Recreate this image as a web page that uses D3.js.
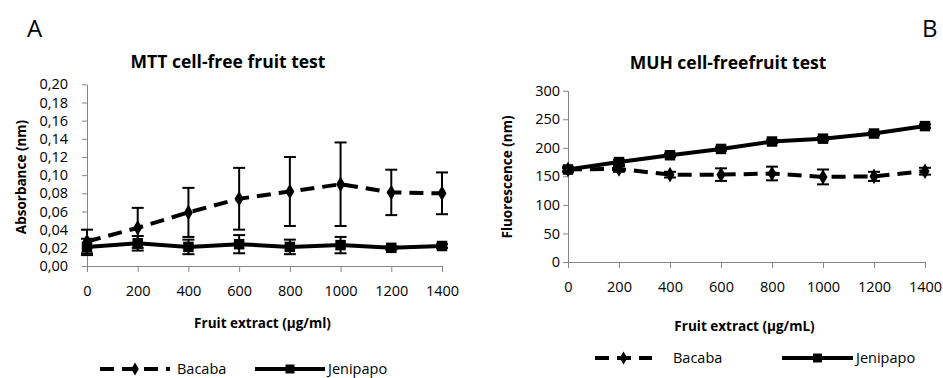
<!DOCTYPE html>
<html>
<head>
<meta charset="utf-8">
<script src="https://cdn.jsdelivr.net/npm/d3@7"></script>
<style>
  body { margin: 0; background: #fff; }
  svg text { font-family: "Open Sans", "Liberation Sans", sans-serif; fill: #000; }
  .tick text { font-size: 14.5px; }
  .axis path, .axis line { stroke: #868686; }
  .title { font-size: 17.5px; font-weight: bold; }
  .axisLabel { font-size: 13.5px; font-weight: bold; }
  .legend { font-size: 14.5px; }
</style>
</head>
<body>
<div id="chart"></div>
<script>
// data
var conc = [0, 200, 400, 600, 800, 1000, 1200, 1400];

var mttBacaba = [0.027, 0.042, 0.059, 0.074, 0.082, 0.090, 0.081, 0.080];
var mttBacabaErr = [0.013, 0.022, 0.027, 0.034, 0.038, 0.046, 0.025, 0.023];
var mttJenipapo = [0.021, 0.025, 0.021, 0.024, 0.021, 0.023, 0.020, 0.022];
var mttJenipapoErr = [0.009, 0.008, 0.008, 0.010, 0.008, 0.009, 0.002, 0.002];

var muhBacaba = [162, 163, 153, 153, 155, 149, 150, 159];
var muhBacabaErr = [3, 5, 5, 11, 12, 13, 8, 6];
var muhJenipapo = [162, 175, 187, 198, 211, 216, 225, 238];
var muhJenipapoErr = [4, 4, 3, 3, 3, 3, 3, 3];

var mttTicks = [0, 0.02, 0.04, 0.06, 0.08, 0.10, 0.12, 0.14, 0.16, 0.18, 0.20];
var muhTicks = [0, 50, 100, 150, 200, 250, 300];

var width = 943, height = 378;

var svg = d3.select("#chart")
  .append("svg")
  .attr("width", width)
  .attr("height", height);

function drawPanel(opt) {
  var g = svg.append("g");
  var xScale = d3.scaleLinear().domain([0, 1400]).range(opt.xRange);
  var yScale = d3.scaleLinear().domain(opt.yDomain).range(opt.yRange);

  g.append("g")
    .attr("class", "axis")
    .attr("transform", `translate(0,${opt.yRange[0]})`)
    .call(d3.axisBottom(xScale).tickValues(conc).tickFormat(d3.format("d")).tickSize(6).tickPadding(opt.xPad))
    .call(function(s) { s.select(".domain").attr("d", `M${opt.xRange[0]},0.5H${opt.xRange[1]}`); });

  g.append("g")
    .attr("class", "axis")
    .attr("transform", `translate(${opt.xRange[0]},0)`)
    .call(d3.axisLeft(yScale).tickValues(opt.ticks).tickFormat(opt.fmt).tickSize(5).tickSizeOuter(0).tickPadding(opt.yPad));

  g.selectAll(".tick text").attr("fill", "#000");

  // error bars
  opt.series.forEach(function(s) {
    var eb = g.append("g").attr("stroke", "#000").attr("stroke-width", 2);
    conc.forEach(function(c, i) {
      var x = xScale(c), y1 = yScale(s.v[i] + s.e[i]), y0 = yScale(s.v[i] - s.e[i]);
      eb.append("line").attr("x1", x).attr("x2", x).attr("y1", y1).attr("y2", y0);
      eb.append("line").attr("x1", x - 6).attr("x2", x + 6).attr("y1", y1).attr("y2", y1);
      eb.append("line").attr("x1", x - 6).attr("x2", x + 6).attr("y1", y0).attr("y2", y0);
    });
  });

  var line = d3.line()
    .x(function(d, i) { return xScale(conc[i]); })
    .y(function(d) { return yScale(d); });

  opt.series.forEach(function(s) {
    g.append("path")
      .datum(s.v)
      .attr("d", line)
      .attr("fill", "none")
      .attr("stroke", "#000")
      .attr("stroke-width", 4)
      .attr("stroke-dasharray", s.dash);

    g.selectAll(null)
      .data(s.v)
      .enter()
      .append("path")
      .attr("transform", function(d, i) { return `translate(${xScale(conc[i])},${yScale(d)})`; })
      .attr("d", d3.symbol().type(s.sym).size(s.size))
      .attr("fill", "#000");
  });

  svg.append("text")
    .attr("class", "title")
    .attr("x", opt.titleX)
    .attr("y", opt.titleY)
    .attr("text-anchor", "middle")
    .text(opt.title);

  svg.append("text")
    .attr("class", "axisLabel")
    .attr("x", (opt.xRange[0] + opt.xRange[1]) / 2 - 2)
    .attr("y", opt.xLabelY)
    .attr("text-anchor", "middle")
    .text(opt.xLabel);

  svg.append("text")
    .attr("class", "axisLabel")
    .attr("transform", `translate(${opt.yLabelX},177) rotate(-90)`)
    .attr("text-anchor", "middle")
    .text(opt.yLabel);

  // legend
  var lg = svg.append("g");
  var L = opt.legend;
  lg.append("line").attr("x1", L.b0).attr("x2", L.b1).attr("y1", L.y).attr("y2", L.y)
    .attr("stroke", "#000").attr("stroke-width", 4).attr("stroke-dasharray", "14,8");
  lg.append("path").attr("transform", `translate(${(L.b0 + L.b1) / 2},${L.y})`)
    .attr("d", d3.symbol().type(d3.symbolDiamond).size(50));
  lg.append("text").attr("class", "legend").attr("x", L.bt).attr("y", L.y + 5).text("Bacaba");
  lg.append("line").attr("x1", L.j0).attr("x2", L.j1).attr("y1", L.y).attr("y2", L.y)
    .attr("stroke", "#000").attr("stroke-width", 4);
  lg.append("path").attr("transform", `translate(${(L.j0 + L.j1) / 2},${L.y})`)
    .attr("d", d3.symbol().type(d3.symbolSquare).size(80));
  lg.append("text").attr("class", "legend").attr("x", L.j1 + 3).attr("y", L.y + 5).text("Jenipapo");
}

drawPanel({
  xRange: [87, 442], yDomain: [0, 0.2], yRange: [266, 84.3], ticks: mttTicks,
  fmt: function(d) { return d3.format(".2f")(d).replace(".", ","); },
  xPad: 14, yPad: 14,
  series: [
    { v: mttBacaba, e: mttBacabaErr, dash: "14,8", sym: d3.symbolDiamond, size: 70 },
    { v: mttJenipapo, e: mttJenipapoErr, dash: null, sym: d3.symbolSquare, size: 110 }
  ],
  title: "MTT cell-free fruit test", titleX: 228, titleY: 68,
  xLabel: "Fruit extract (µg/ml)", xLabelY: 328,
  yLabel: "Absorbance (nm)", yLabelX: 26,
  legend: { y: 369, b0: 100, b1: 170, bt: 177, j0: 255, j1: 325 }
});

drawPanel({
  xRange: [568, 925], yDomain: [0, 300], yRange: [262, 90.7], ticks: muhTicks,
  fmt: d3.format("d"),
  xPad: 14, yPad: 3,
  series: [
    { v: muhBacaba, e: muhBacabaErr, dash: "14,8", sym: d3.symbolDiamond, size: 70 },
    { v: muhJenipapo, e: muhJenipapoErr, dash: null, sym: d3.symbolSquare, size: 110 }
  ],
  title: "MUH  cell-freefruit test", titleX: 728, titleY: 69,
  xLabel: "Fruit extract (µg/mL)", xLabelY: 331,
  yLabel: "Fluorescence (nm)", yLabelX: 512,
  legend: { y: 358, b0: 595, b1: 652, bt: 673, j0: 782, j1: 853 }
});

svg.append("text").attr("x", 27).attr("y", 37).attr("font-size", 24).text("A");
svg.append("text").attr("x", 922).attr("y", 37).attr("font-size", 24).text("B");
</script>
</body>
</html>
